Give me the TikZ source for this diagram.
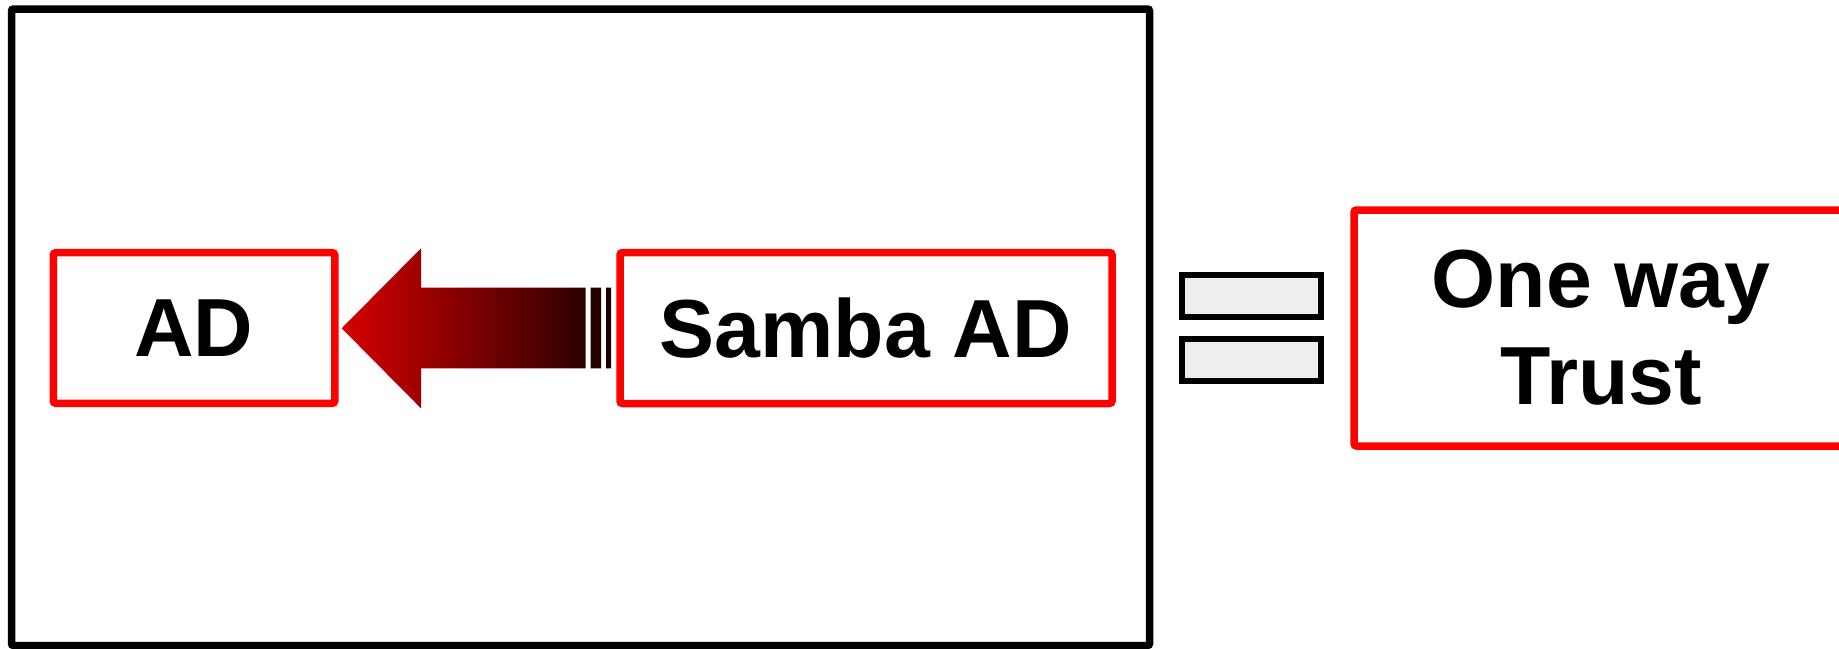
\documentclass[tikz,border=0pt]{standalone}
\usepackage{fontspec}
\setmainfont{Liberation Sans}
\definecolor{arrowred}{RGB}{214,0,0}
\definecolor{arrowdark}{RGB}{28,0,0}
\definecolor{eqgray}{RGB}{238,238,238}
\begin{document}
\begin{tikzpicture}[x=1pt,y=-1pt,
  redbox/.style={draw=red, line width=7.5pt, rounded corners=2.5pt, inner sep=0pt,
    font=\fontsize{82.4}{97}\selectfont\bfseries, align=center},
  eqbar/.style={draw=black, line width=6pt, fill=eqgray, minimum width=139pt,
    minimum height=42pt, inner sep=0pt},
  frame/.style={draw=black, line width=7.5pt, rounded corners=2pt}
]
\useasboundingbox (0,0) rectangle (1839,648);
\draw[frame] (11.5,9) rectangle (1149.5,645.5);
\node[redbox, minimum width=281.5pt, minimum height=150.6pt] (ad) at (194,328) {AD};
\node[redbox, minimum width=492pt, minimum height=151pt] (samba) at (866,328) {Samba AD};
\node[redbox, minimum width=494pt, minimum height=236pt] (trust) at (1601,328) {One way\\Trust};
\node[eqbar] (eq1) at (1251.5,296.3) {};
\node[eqbar] (eq2) at (1251.5,360) {};
\shade[left color=arrowred, right color=arrowdark]
  (341.7,328.3) -- (421,248.3) -- (421,287.7) -- (585.7,287.7) -- (585.7,368.3)
  -- (421,368.3) -- (421,408.3) -- cycle
  (590.7,287.7) rectangle (601,368.3)
  (606,287.7) rectangle (611,368.3);
\end{tikzpicture}
\end{document}
